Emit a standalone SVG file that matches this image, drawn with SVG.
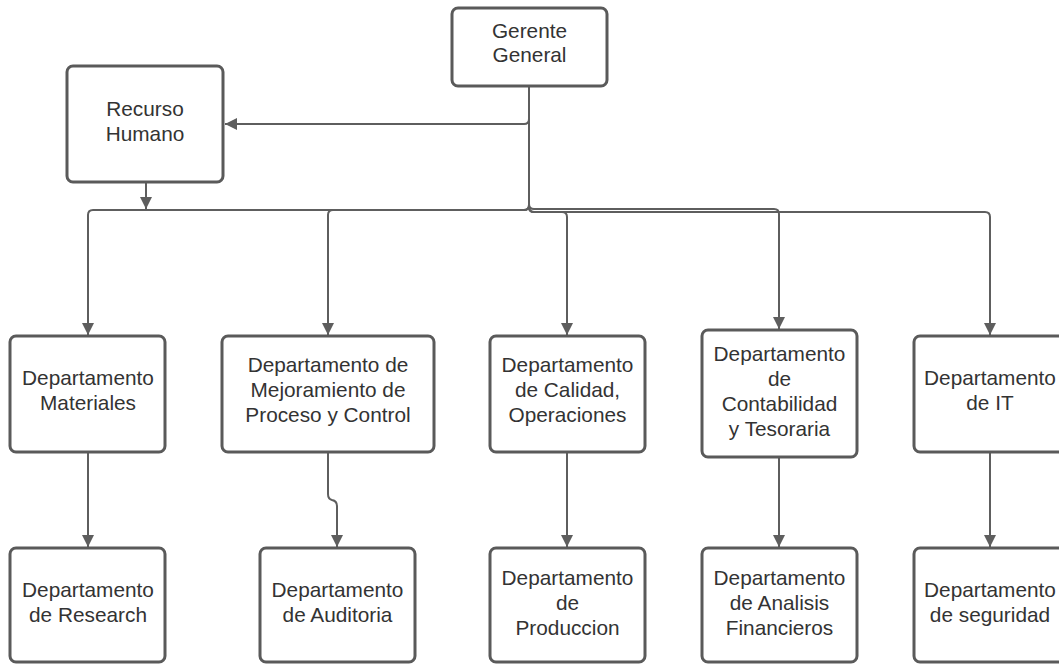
<svg xmlns="http://www.w3.org/2000/svg" width="1059" height="664" viewBox="0 0 1059 664">
<style>
.box{fill:#ffffff;stroke:#5a5a5a;stroke-width:3}
.lbl{font-family:"Liberation Sans",Arial,sans-serif;font-size:20.8px;fill:#333333;text-anchor:middle}
.c{fill:none;stroke:#5e5e5e;stroke-width:2}
</style>
<defs>
<marker id="ah" markerUnits="userSpaceOnUse" markerWidth="12" markerHeight="12" viewBox="0 0 12 12" refX="12" refY="6" orient="auto">
<path d="M0,0 L12,6 L0,12 Z" fill="#5e5e5e"/>
</marker>
</defs>
<rect width="1059" height="664" fill="#ffffff"/>
<g id="connectors">
<path class="c" d="M529 86 V119 Q529 124 524 124 H225" marker-end="url(#ah)"/>
<path class="c" d="M146 182 V209" marker-end="url(#ah)"/>
<path class="c" d="M529 86 V205 Q529 210 524 210 H93 Q88 210 88 215 V335" marker-end="url(#ah)"/>
<path class="c" d="M529 205 Q529 210 524 210 H333 Q328 210 328 215 V335" marker-end="url(#ah)"/>
<path class="c" d="M529 207 Q529 212 534 212 H562 Q567 212 567 217 V335" marker-end="url(#ah)"/>
<path class="c" d="M529 204 Q529 209 534 209 H774 Q779 209 779 214 V329" marker-end="url(#ah)"/>
<path class="c" d="M529 207 Q529 212 534 212 H985 Q990 212 990 217 V335" marker-end="url(#ah)"/>
<path class="c" d="M88 452 V547" marker-end="url(#ah)"/>
<path class="c" d="M328 452 V494 Q328 499 332 500 Q337 501 337 506 V547" marker-end="url(#ah)"/>
<path class="c" d="M567 452 V547" marker-end="url(#ah)"/>
<path class="c" d="M779 457 V547" marker-end="url(#ah)"/>
<path class="c" d="M990 452 V547" marker-end="url(#ah)"/>
</g>
<g id="gerente">
<rect class="box" x="452" y="8" width="155" height="78" rx="6"/>
<text class="lbl" x="529.5" y="38">Gerente</text>
<text class="lbl" x="529.5" y="62">General</text>
</g>
<g id="recurso">
<rect class="box" x="67" y="66" width="156" height="116" rx="6"/>
<text class="lbl" x="145" y="116">Recurso</text>
<text class="lbl" x="145" y="141">Humano</text>
</g>
<g id="materiales">
<rect class="box" x="10" y="336" width="155" height="116" rx="6"/>
<text class="lbl" x="88" y="385">Departamento</text>
<text class="lbl" x="88" y="410">Materiales</text>
</g>
<g id="mejoramiento">
<rect class="box" x="222" y="336" width="212" height="116" rx="6"/>
<text class="lbl" x="328" y="372">Departamento de</text>
<text class="lbl" x="328" y="397">Mejoramiento de</text>
<text class="lbl" x="328" y="422">Proceso y Control</text>
</g>
<g id="calidad">
<rect class="box" x="490" y="336" width="155" height="116" rx="6"/>
<text class="lbl" x="567.5" y="372">Departamento</text>
<text class="lbl" x="567.5" y="397">de Calidad,</text>
<text class="lbl" x="567.5" y="422">Operaciones</text>
</g>
<g id="contabilidad">
<rect class="box" x="702" y="330" width="155" height="127" rx="6"/>
<text class="lbl" x="779.5" y="361">Departamento</text>
<text class="lbl" x="779.5" y="386">de</text>
<text class="lbl" x="779.5" y="411">Contabilidad</text>
<text class="lbl" x="779.5" y="436">y Tesoraria</text>
</g>
<g id="it">
<rect class="box" x="914" y="336" width="155" height="116" rx="6"/>
<text class="lbl" x="990" y="385">Departamento</text>
<text class="lbl" x="990" y="410">de IT</text>
</g>
<g id="research">
<rect class="box" x="10" y="548" width="155" height="114" rx="6"/>
<text class="lbl" x="88" y="597">Departamento</text>
<text class="lbl" x="88" y="622">de Research</text>
</g>
<g id="auditoria">
<rect class="box" x="260" y="548" width="155" height="114" rx="6"/>
<text class="lbl" x="337.5" y="597">Departamento</text>
<text class="lbl" x="337.5" y="622">de Auditoria</text>
</g>
<g id="produccion">
<rect class="box" x="490" y="548" width="155" height="114" rx="6"/>
<text class="lbl" x="567.5" y="585">Departamento</text>
<text class="lbl" x="567.5" y="610">de</text>
<text class="lbl" x="567.5" y="635">Produccion</text>
</g>
<g id="analisis">
<rect class="box" x="702" y="548" width="155" height="114" rx="6"/>
<text class="lbl" x="779.5" y="585">Departamento</text>
<text class="lbl" x="779.5" y="610">de Analisis</text>
<text class="lbl" x="779.5" y="635">Financieros</text>
</g>
<g id="seguridad">
<rect class="box" x="914" y="548" width="155" height="114" rx="6"/>
<text class="lbl" x="990" y="597">Departamento</text>
<text class="lbl" x="990" y="622">de seguridad</text>
</g>
</svg>
